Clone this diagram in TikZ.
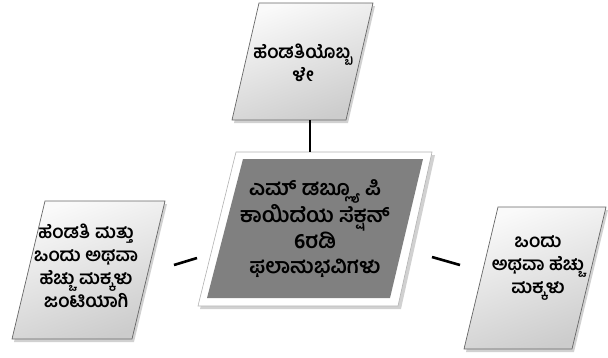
\documentclass[tikz,border=0pt]{standalone}
\usepackage{fontspec}
\newfontfamily\kn[Script=Kannada]{Hind Mysuru}
\begin{document}
\begin{tikzpicture}[x=1pt,y=-1pt,
  lbl/.style={font=\kn\bfseries\fontsize{18.5}{23}\selectfont, align=center, text=black, inner sep=0pt},
  biglbl/.style={font=\kn\bfseries\fontsize{21}{25}\selectfont, align=center, text=black, inner sep=0pt},
  lightbox/.style={draw=gray!80!black, line width=0.7pt, top color=white!96!gray, bottom color=gray!40, shading angle=20},
  shadowbox/.style={fill=black, opacity=0.18, draw=none},
  conn/.style={draw=black, line width=2.6pt}]
\useasboundingbox (0,0) rectangle (608,357);
% top box
\fill[shadowbox] (261,6) -- (375,6) -- (348,123) -- (234,123) -- cycle;
\path[lightbox] (259,3) -- (373,3) -- (346,120) -- (232,120) -- cycle;
\coordinate (topb) at (310,120);
\node[lbl] (ttop) at (303,63) {ಹೆಂಡತಿಯೊಬ್ಬ\\ಳೇ};
% left box
\fill[shadowbox] (47,204) -- (167,204) -- (134,342) -- (14,342) -- cycle;
\path[lightbox] (45,201) -- (165,201) -- (132,339) -- (12,339) -- cycle;
\coordinate (leftr) at (174,265);
\node[lbl] (tleft) at (86,266) {ಹೆಂಡತಿ ಮತ್ತು\\ಒಂದು ಅಥವಾ\\ಹೆಚ್ಚು ಮಕ್ಕಳು\\ಜಂಟಿಯಾಗಿ};
% right box
\fill[shadowbox] (500,210) -- (608,210) -- (574,352) -- (466,352) -- cycle;
\path[lightbox] (498,207) -- (606,207) -- (572,349) -- (464,349) -- cycle;
\coordinate (rightl) at (460,265);
\node[lbl] (tright) at (538,268) {ಒಂದು\\ಅಥವಾ ಹೆಚ್ಚು\\ಮಕ್ಕಳು};
% central box
\fill[shadowbox] (238,155) -- (435,155) -- (401,309) -- (200,309) -- cycle;
\path[fill=white, draw=gray!60, line width=0.6pt] (236,152) -- (432,152) -- (398,306) -- (198,306) -- cycle;
\path[fill=black!50] (243,159) -- (423,159) -- (390,298) -- (207,298) -- cycle;
\coordinate (ctop) at (310,152);
\coordinate (cleft) at (197,258);
\coordinate (cright) at (432,257);
\node[biglbl] (tcenter) at (315,229) {ಎಮ್ ಡಬ್ಲ್ಯೂ ಪಿ\\ಕಾಯಿದೆಯ ಸೆಕ್ಷನ್\\6ರಡಿ\\ಫಲಾನುಭವಿಗಳು};
% connectors
\draw[conn] (topb) -- (ctop);
\draw[conn] (leftr) -- (cleft);
\draw[conn] (cright) -- (rightl);
\end{tikzpicture}
\end{document}
